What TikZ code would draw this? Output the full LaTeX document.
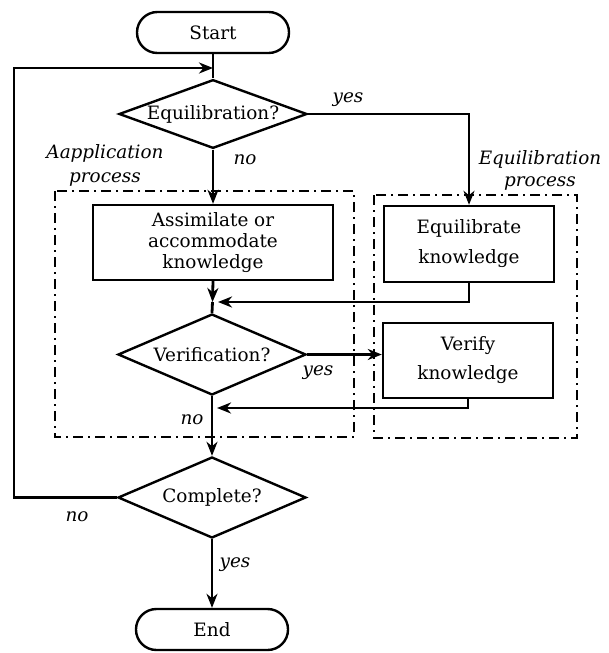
\documentclass[tikz,border=0pt]{standalone}
\usepackage{fontspec}
\setmainfont{DejaVu Serif}
\usetikzlibrary{shapes.geometric,arrows.meta}

\tikzset{
  term/.style={draw, line width=1.2pt, rounded corners=10.2pt,
    minimum width=76pt, minimum height=20.5pt, inner sep=0pt},
  procbox/.style={draw, line width=1.2pt, align=center, inner sep=0pt},
  decision/.style={draw, diamond, line width=1.2pt, inner sep=0pt,
    shape aspect=2.6, minimum width=94pt},
  link/.style={line width=1.4pt},
  flow/.style={link, -{Stealth[length=7pt,width=5.5pt,inset=2.2pt]}},
  region/.style={line width=1.2pt, dash pattern=on 5pt off 2.5pt on 1pt off 2.5pt},
  lab/.style={font=\fontsize{9.2}{11}\selectfont\itshape, inner sep=0pt}
}

\begin{document}
\begin{tikzpicture}[x=0.5pt, y=-0.5pt, font=\fontsize{9.2}{11}\selectfont]
  \useasboundingbox (0,0) rectangle (609,653);

  % process regions
  \draw[region] (55,191) rectangle (354,437);
  \draw[region] (374,195) rectangle (577,438);

  % terminals
  \node[term] (start) at (213,32.5) {Start};
  \node[term] (end) at (212,629.5) {End};

  % decisions
  \node[decision, minimum height=34pt] (eq) at (213,114) {Equilibration?};
  \node[decision, minimum height=40.5pt] (verif) at (212,354.5) {Verification?};
  \node[decision, minimum height=40.5pt] (complete) at (212,497.5) {Complete?};

  % processes
  \node[procbox, minimum width=120pt, minimum height=37.5pt] (assim) at (213,242.5)
    {Assimilate or\\[-0.6pt]accommodate\\[-0.6pt]knowledge};
  \node[procbox, minimum width=85pt, minimum height=38pt] (equil) at (469,244)
    {Equilibrate\\[4pt]knowledge};
  \node[procbox, minimum width=85pt, minimum height=37.5pt] (verify) at (468,360.5)
    {Verify\\[3.5pt]knowledge};

  % junction points
  \coordinate (loopin) at (213,68);
  \coordinate (loopcorner) at (14,68);
  \coordinate (joinA) at (212.5,302);
  \coordinate (joinAtip) at (218,302);
  \coordinate (joinBtip) at (217,408);

  % connectors
  \draw[link] (start) -- (eq);
  \draw[flow] (complete.west) -| (loopcorner) -- (loopin);
  \draw[flow] (eq.east) -| (equil.north);
  \draw[flow] (eq.south) -- (assim.north);
  \draw[flow] (assim.south) -- (joinA);
  \draw[link] (joinA) -- (verif.north);
  \draw[flow] (equil.south) |- (joinAtip);
  \draw[flow] (verif.east) -- (verif.east -| verify.west);
  \draw[flow] (verify.south) |- (joinBtip);
  \draw[flow] (verif.south) -- (complete.north);
  \draw[flow] (complete.south) -- (end.north);

  % labels
  \node[lab] (yesA) at (348,100) {yes};
  \node[lab] (noA) at (245,160) {no};
  \node[lab, align=center] (appl) at (105,165) {Aapplication\\[1pt]process};
  \node[lab, align=center] (equilp) at (540,170) {Equilibration\\process};
  \node[lab] (yesB) at (318,373) {yes};
  \node[lab] (noB) at (192,420) {no};
  \node[lab] (noC) at (77,517) {no};
  \node[lab] (yesC) at (235,565) {yes};
\end{tikzpicture}
\end{document}
